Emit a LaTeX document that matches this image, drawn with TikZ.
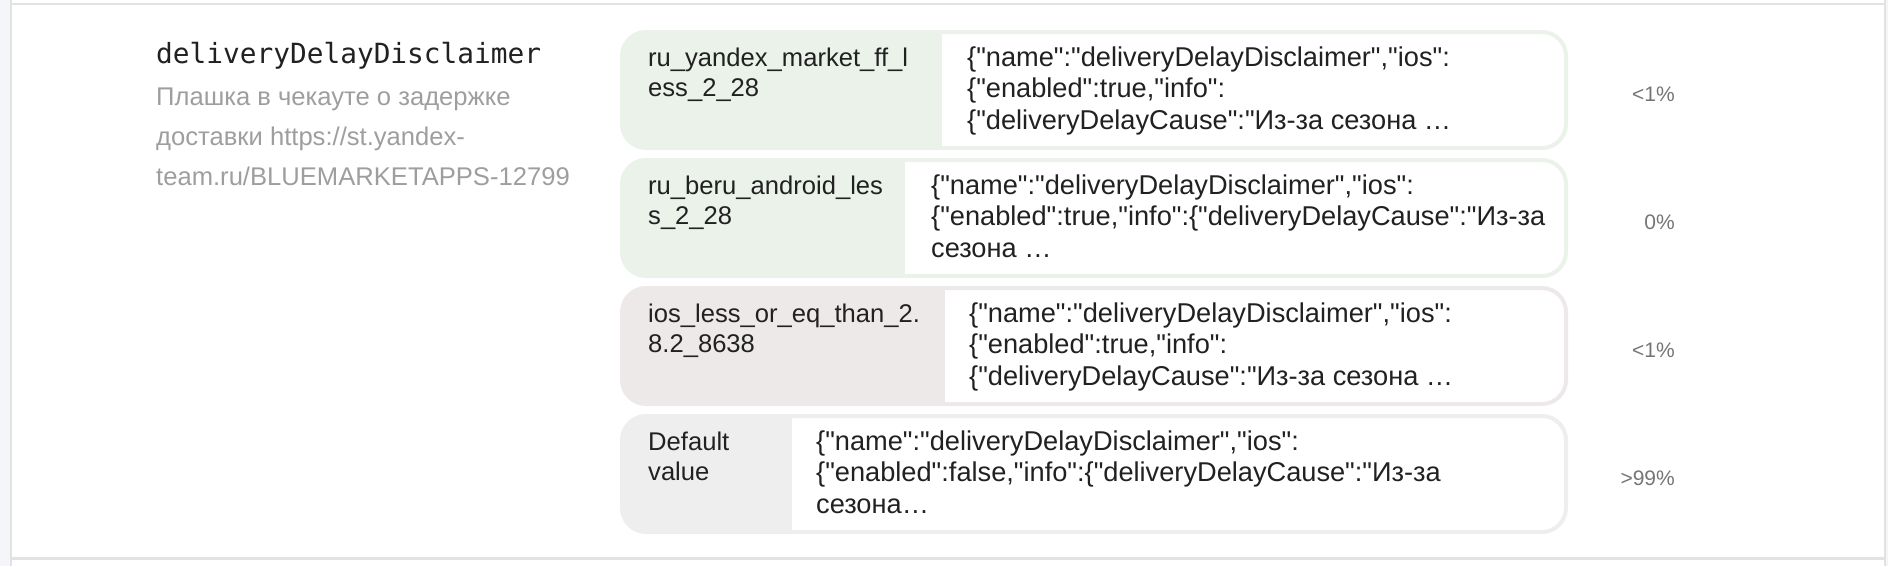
\documentclass[tikz,border=0pt]{standalone}
\usepackage{fontspec}
\setmainfont{Liberation Sans}[Ligatures=TeXOff]
\newfontfamily\monofont{DejaVu Sans Mono}
\usepackage{xcolor}
\usepackage{tikz}
\usetikzlibrary{positioning}

\definecolor{greenbg}{HTML}{EAF2EA}
\definecolor{pinkbg}{HTML}{EDE9E8}
\definecolor{greybg}{HTML}{EEEEEE}
\definecolor{textdark}{HTML}{212121}
\definecolor{textgrey}{HTML}{9E9E9E}
\definecolor{pctgrey}{HTML}{757575}
\definecolor{framegrey}{HTML}{E2E2E2}
\definecolor{sidebg}{HTML}{F4F6F9}

\begin{document}
\begin{tikzpicture}[x=1pt, y=-1pt,
    card/.style 2 args={draw=#1, fill=white, line width=4pt, rounded corners=24pt,
      inner sep=0pt, minimum width=944pt, minimum height=116pt,
      path picture={\fill[#1, sharp corners] (path picture bounding box.north west) rectangle
        ([xshift=#2]path picture bounding box.south west);}},
    condtext/.style={anchor=base west, align=left, inner sep=0pt, text=textdark,
      font=\fontsize{25.6}{30}\selectfont},
    jsontext/.style={anchor=base west, align=left, inner sep=0pt, text=textdark,
      font=\fontsize{27.2}{31.5}\selectfont},
    pcttext/.style={anchor=east, inner sep=0pt, text=pctgrey,
      font=\fontsize{21}{24}\selectfont}]

    \useasboundingbox (0,0) rectangle (1888,566);

    % frame of the table row
    \fill [sidebg] (0,0) rectangle (11,566);
    \fill [white!96!black] (1886,0) rectangle (1888,566);
    \draw [framegrey, line width=2pt] (11,0) -- (11,566);
    \draw [framegrey, line width=2pt] (1885,0) -- (1885,566);
    \draw [framegrey, line width=2pt] (12,4) -- (1884,4);
    \draw [framegrey, line width=3pt] (12,558.5) -- (1884,558.5);

    % flag name and description (base = last line)
    \node (title) [anchor=base west, inner sep=0pt, text=textdark,
      font=\monofont\fontsize{27.8}{32}\selectfont] at (156,63) {deliveryDelayDisclaimer};
    \node (desc) [anchor=base west, align=left, inner sep=0pt, text=textgrey,
      font=\fontsize{25.6}{40}\selectfont] at (156,185)
      {Плашка в чекауте о задержке\\доставки https://st.yandex-\\team.ru/BLUEMARKETAPPS-12799};

    % value cards
    \node (card1) [card={greenbg}{320pt}] at (1094,90) {};
    \node (card2) [card={greenbg}{283pt}, below=8pt of card1] {};
    \node (card3) [card={pinkbg}{323pt}, below=8pt of card2] {};
    \node (card4) [card={greybg}{170pt}, below=8pt of card3] {};

    \node (cond1) [condtext] at ([xshift=28pt, yshift=-66pt]card1.north west)
      {ru\_yandex\_market\_ff\_l\\ess\_2\_28};
    \node (cond2) [condtext] at ([xshift=28pt, yshift=-66pt]card2.north west)
      {ru\_beru\_android\_les\\s\_2\_28};
    \node (cond3) [condtext] at ([xshift=28pt, yshift=-66pt]card3.north west)
      {ios\_less\_or\_eq\_than\_2.\\8.2\_8638};
    \node (cond4) [condtext] at ([xshift=28pt, yshift=-66pt]card4.north west)
      {Default\\value};

    \node (json1) [jsontext] at ([xshift=347pt, yshift=-99pt]card1.north west)
      {\{"name":"deliveryDelayDisclaimer","ios":\\\{"enabled":true,"info":\\\{"deliveryDelayCause":"Из-за сезона …};
    \node (json2) [jsontext] at ([xshift=311pt, yshift=-99pt]card2.north west)
      {\{"name":"deliveryDelayDisclaimer","ios":\\\{"enabled":true,"info":\{"deliveryDelayCause":"Из-за\\сезона …};
    \node (json3) [jsontext] at ([xshift=349pt, yshift=-99pt]card3.north west)
      {\{"name":"deliveryDelayDisclaimer","ios":\\\{"enabled":true,"info":\\\{"deliveryDelayCause":"Из-за сезона …};
    \node (json4) [jsontext] at ([xshift=196pt, yshift=-99pt]card4.north west)
      {\{"name":"deliveryDelayDisclaimer","ios":\\\{"enabled":false,"info":\{"deliveryDelayCause":"Из-за\\сезона…};

    % shares
    \node (pct1) [pcttext] at ([xshift=107pt, yshift=-4pt]card1.east) {<1\%};
    \node (pct2) [pcttext] at ([xshift=107pt, yshift=-4pt]card2.east) {0\%};
    \node (pct3) [pcttext] at ([xshift=107pt, yshift=-4pt]card3.east) {<1\%};
    \node (pct4) [pcttext] at ([xshift=107pt, yshift=-4pt]card4.east) {>99\%};

\end{tikzpicture}
\end{document}
